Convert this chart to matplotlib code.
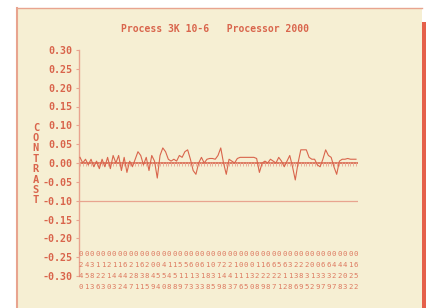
import matplotlib
matplotlib.use("Agg")
import matplotlib.pyplot as plt
from matplotlib.patches import Rectangle
import numpy as np

# ---- data ----
title = "Process 3K 10-6   Processor 2000"
ylabel_letters = ["C", "O", "N", "T", "R", "A", "S", "T"]
y_ticks = [0.30, 0.25, 0.20, 0.15, 0.10, 0.05, 0.00, -0.05, -0.10, -0.15, -0.20, -0.25, -0.30]
y_ticklabels = ["0.30", "0.25", "0.20", "0.15", "0.10", "0.05", "0.00", "-0.05",
                "-0.10", "-0.15", "-0.20", "-0.25", "-0.30"]
contrast = [0.015, 0.0, 0.01, -0.005, 0.01, -0.01, 0.005, -0.015, 0.01, -0.01,
            0.015, -0.015, 0.02, 0.0, 0.02, -0.02, 0.015, -0.025, 0.005, -0.01,
            0.01, 0.03, 0.02, -0.005, 0.015, -0.02, 0.02, 0.005, -0.04, 0.02,
            0.04, 0.03, 0.01, 0.005, 0.01, 0.005, 0.02, 0.015, 0.03, 0.035,
            0.01, -0.02, -0.03, 0.0, 0.015, 0.0, 0.01, 0.012, 0.012, 0.01,
            0.02, 0.04, 0.0, -0.03, 0.01, 0.005, 0.0, 0.012, 0.015, 0.015,
            0.015, 0.015, 0.015, 0.015, 0.012, -0.025, 0.0, 0.005, 0.0, 0.01,
            0.005, 0.0, 0.015, 0.005, -0.01, 0.005, 0.02, -0.01, -0.045, 0.0,
            0.035, 0.035, 0.035, 0.015, 0.01, 0.01, -0.005, -0.01, 0.01, 0.035,
            0.02, 0.015, -0.01, -0.03, 0.005, 0.01, 0.01, 0.012, 0.01, 0.01, 0.01]
control_limit = -0.10
label_row1 = "000000000000000000000000000000000000000000000000000"
label_row2 = "243112116216200411556061072210001166563222006644416"
label_row3 = "458221444283845545111318314411132222211383133322025"
label_row4 = "013630324711594088973338598376508987128695297978322"

# ---- style ----
W, H = 427, 308
BG = "#f6efd3"
RED = "#d9654c"
LIGHT = "#e8a48f"
mono = "DejaVu Sans Mono"

fig = plt.figure(figsize=(W / 100, H / 100), dpi=100)
fig.patch.set_facecolor("white")

def fx(px):
    return px / W

def fy(py):
    return 1 - py / H

# panel
fig.patches.append(Rectangle((fx(17), 0), fx(422) - fx(17), fy(8), transform=fig.transFigure,
                             facecolor=BG, edgecolor="none", zorder=-5))
fig.add_artist(plt.Line2D([fx(17), fx(17)], [0, fy(8)], color=LIGHT, lw=1.5,
                          transform=fig.transFigure, zorder=-4))
fig.add_artist(plt.Line2D([fx(17), fx(422)], [fy(8), fy(8)], color=LIGHT, lw=1.0,
                          transform=fig.transFigure, zorder=-4))
fig.patches.append(Rectangle((fx(422), 0), fx(427) - fx(422), fy(22), transform=fig.transFigure,
                             facecolor="#e5604a", edgecolor="none", zorder=-4))

# axes: x index 0 at px 80, 2.76 px per step; y 0.30 at px 50, -0.30 at px 276
ax_left, ax_right = 79, 358
step = 2.76
ax = fig.add_axes([fx(ax_left), fy(276), fx(ax_right) - fx(ax_left), fy(50) - fy(276)])
ax.set_zorder(1)
ax.patch.set_visible(False)
ax.set_xlim((ax_left - 80) / step, (ax_right - 80) / step)
ax.set_ylim(-0.30, 0.30)
for s in ["top", "right", "bottom"]:
    ax.spines[s].set_visible(False)
ax.spines["left"].set_color(LIGHT)
ax.spines["left"].set_linewidth(1.0)
ax.set_xticks([])
ax.set_yticks(y_ticks)
ax.set_yticklabels(y_ticklabels, fontfamily=mono, fontsize=7.2, fontweight="bold", color=RED)
ax.tick_params(axis="y", length=2, width=0.8, color=LIGHT, pad=3)

x = np.arange(len(contrast))
# zero line and comb ticks
ax.axhline(0, color=RED, lw=1.2, zorder=2)
ax.vlines(x, -0.008, 0.003, color=LIGHT, lw=0.6, zorder=2)
ax.axhline(control_limit, color=LIGHT, lw=0.9, zorder=2)
ax.plot(x, contrast, color=RED, lw=0.8, zorder=3)

# title
fig.text(fx(215), fy(29), title, ha="center", va="center", fontfamily=mono, fontsize=7.0,
         fontweight="bold", color=RED)

# y label (stacked letters)
fig.text(fx(36), fy(164), "\n".join(ylabel_letters), ha="center", va="center",
         fontfamily=mono, fontsize=7.5, fontweight="bold", color=RED, linespacing=1.05)

# bottom label rows
rows = [label_row1, label_row2, label_row3, label_row4]
row_y = [254, 265, 276, 287]
for r, yy in zip(rows, row_y):
    for j, ch in enumerate(r):
        xx = 81 + j * 5.5
        fig.text(fx(xx), fy(yy), ch, ha="center", va="center", fontfamily=mono,
                 fontsize=5.2, color=RED, alpha=0.85)

fig.savefig("out.png", dpi=100, facecolor=fig.get_facecolor())
